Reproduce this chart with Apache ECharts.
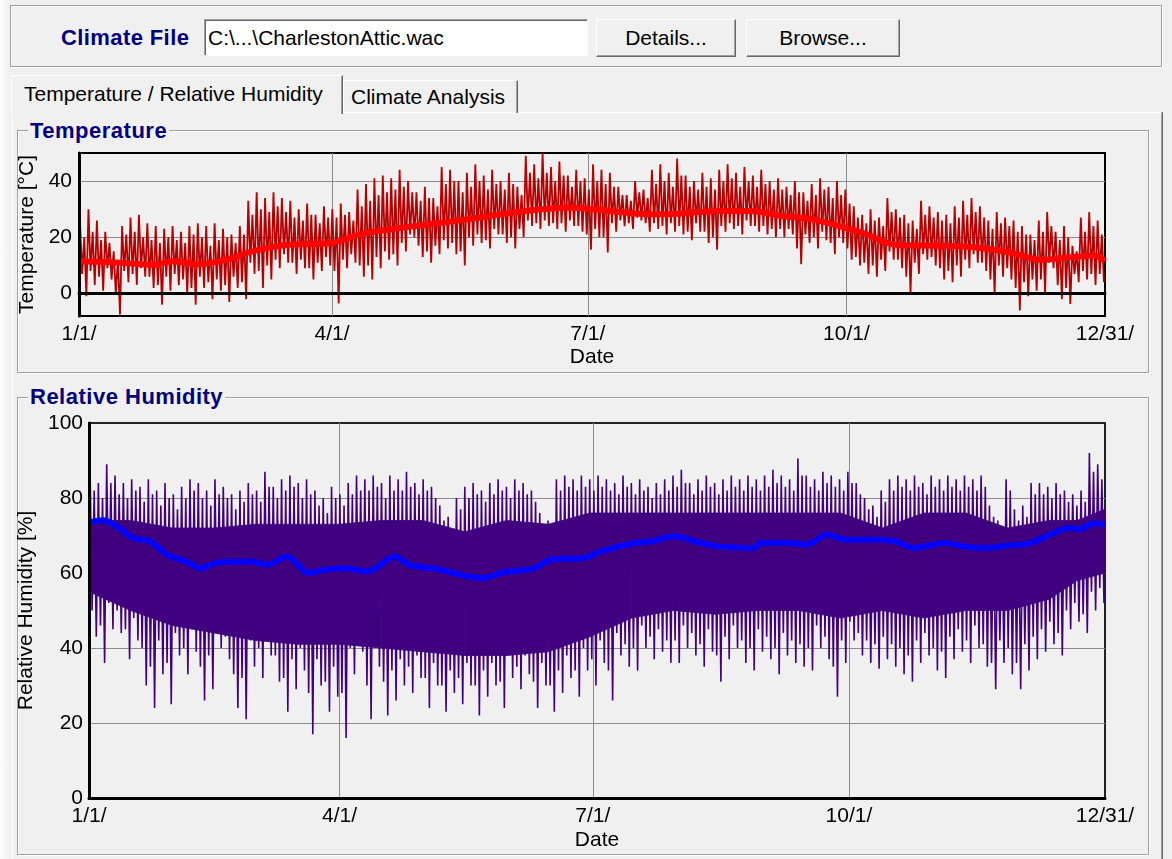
<!DOCTYPE html>
<html><head><meta charset="utf-8">
<script src="https://cdn.jsdelivr.net/npm/echarts@6/dist/echarts.min.js"></script>
<style>
body{margin:0;width:1172px;height:859px;overflow:hidden;background:#f0f0f0;font-family:"Liberation Sans",Arial,sans-serif;position:relative;color:#000}
.a{position:absolute;box-sizing:border-box}
.etch{border:1px solid #a0a0a0;box-shadow:inset 1px 1px 0 #fff,1px 1px 0 #fff}
.btn{background:#f0f0f0;border-top:1px solid #fff;border-left:1px solid #fff;border-right:1px solid #696969;border-bottom:1px solid #696969;box-shadow:inset -1px -1px 0 #a0a0a0;font-size:21px;text-align:center;line-height:35px}
.ttl{font-weight:bold;color:#000080;font-size:22px;letter-spacing:0.5px;background:#f0f0f0;padding:0 2px;line-height:24px}
#chart{position:absolute;left:0;top:0;width:1172px;height:859px}
</style></head><body>
<div class="a" style="left:0;top:0;width:10px;height:859px;background:linear-gradient(to right,#fcfcfc,#f0f0f0)"></div>
<div class="a etch" style="left:10px;top:5px;width:1152px;height:62px"></div>
<div class="a" style="left:61px;top:25px;font-size:22px;font-weight:bold;color:#000080;letter-spacing:0.4px;line-height:26px">Climate File</div>
<div class="a" style="left:204px;top:19px;width:384px;height:37px;background:#fff;border-top:1px solid #a0a0a0;border-left:1px solid #a0a0a0;border-right:1px solid #fff;border-bottom:1px solid #fff;box-shadow:inset 1px 1px 0 #696969;font-size:21px;line-height:35px;padding-left:3px">C:\...\CharlestonAttic.wac</div>
<div class="a btn" style="left:596px;top:19px;width:140px;height:38px">Details...</div>
<div class="a btn" style="left:746px;top:19px;width:154px;height:38px">Browse...</div>
<div class="a" style="left:12px;top:112px;width:1150px;height:760px;border-top:1px solid #fff;border-left:1px solid #fff;border-right:1px solid #a0a0a0;box-shadow:1px 0 0 #696969"></div>
<div class="a" style="left:343px;top:80px;width:175px;height:33px;border-top:1px solid #fff;border-left:1px solid #fff;border-right:1px solid #696969;box-shadow:inset -1px 0 0 #a0a0a0;font-size:21px;line-height:32px;padding-left:7px">Climate Analysis</div>
<div class="a" style="left:11px;top:75px;width:332px;height:39px;background:#f0f0f0;border-top:1px solid #fff;border-left:1px solid #fff;border-right:1px solid #696969;box-shadow:inset -1px 0 0 #a0a0a0;font-size:21px;line-height:36px;padding-left:12px">Temperature / Relative Humidity</div>
<div class="a etch" style="left:17px;top:130px;width:1132px;height:243px"></div>
<div class="a ttl" style="left:28px;top:119px">Temperature</div>
<div class="a etch" style="left:17px;top:397px;width:1132px;height:458px"></div>
<div class="a ttl" style="left:28px;top:385px">Relative Humidity</div>
<div id="chart"></div>
<script>
// ---- data ----
const dayTicks = [0, 90, 181, 273, 365];
const dayLabels = ['1/1/', '4/1/', '7/1/', '10/1/', '12/31/'];
const tempTicks = [0, 20, 40];
const rhTicks = [20, 40, 60, 80];

// temperature: extreme high / low of each 3-day block
const tempHigh = [25,30,26,22,15,24,27,28,25,24, 23,24,22,24,25,24,25,23,21,24,
  33,36,34,36,34,33,30,32,28,31, 30,32,29,37,39,41,42,41,44,40,
  36,38,34,45,44,40,43,46,42,44, 40,43,38,49,46,50,45,47,42,44,
  41,46,44,43,38,35,40,37,44,46, 43,48,42,40,43,41,44,46,43,45,
  42,44,40,41,38,40,36,39,41,38, 40,37,31,28,30,27,34,30,28,26,
  33,31,29,28,31,33,34,31,26,29, 27,26,24,21,26,29,22,24,17,27,29,26];
const tempLow = [-1,3,1,5,-7.5,4,3,6,2,-4, 1,3,0,-4,2,-2,1,-3,2,-2,
  7,2,5,9,11,7,9,5,8,10, -3.5,9,11,6,5,9,12,10,15,20,
  13,11,14,16,14,10,17,18,16,21, 18,16,20,24,23,24,23,22,24,22,
  15.6,20,14.6,22,24,23,26,22,23,21, 22,21,19,22,18,15.6,22,23,21,24,
  22,21,20,20,21,10.4,18,16,19,14, 18,12,10,7,6,8,12,9,0,7,
  12,10,5,4,6,9,11,8,-0.4,6, 5,-6,-1,1,0,9,-2,-3.7,4,5,3,4];
// temperature: second (more typical) high / low of each 3-day block
const tempHigh2 = [20,22,19,18,12,21,22,20,19,18, 20,19,18,21,20,17,19,20,18,21,
  28,30,29,31,29,27,26,28,25,27, 27,28,26,31,33,35,36,37,38,36,
  33,34,31,39,40,36,38,40,37,39, 37,39,35,43,41,43,40,42,38,40,
  37,40,39,38,35,33,36,34,39,40, 38,42,38,37,38,37,40,41,38,40,
  38,39,37,37,35,36,33,35,37,34, 35,32,27,25,26,24,29,27,25,23,
  28,27,26,25,27,28,29,27,23,25, 24,22,21,19,22,24,19,20,15,22,24,21];
const tempLow2 = [7,8,6,9,0,8,7,9,6,3, 6,7,5,2,6,4,5,3,6,4,
  11,8,10,12,14,11,12,9,11,13, 8,12,14,10,10,13,15,14,18,21,
  17,15,17,19,18,15,20,21,19,23, 21,20,23,26,25,26,25,25,26,24,
  21,23,20,25,26,25,27,25,25,24, 25,24,22,25,22,20,24,25,24,26,
  24,24,23,23,23,16,21,20,22,18, 20,16,13,11,10,12,15,12,6,11,
  14,13,9,8,10,12,14,11,5,10, 9,2,4,5,5,11,3,2,7,8,7,7];
const tempAvgDays = [0,10,20,27,33,43,50,55,62,72,80,90,96,102,114,126,138,156,174,185,
  197,209,227,239,250,261,273,279,291,309,321,332,342,350,356,361,365];
const tempAvg = [11.5,11.2,10.6,10.2,11.5,10.4,11.5,12.8,15.1,17.1,17.6,18,19.8,21.5,23.3,24.8,26.4,29.0,30.6,29.8,
  28.5,28.2,29.4,29.4,27.6,26.4,23.3,21.5,17.3,17.0,16.2,14.4,12.0,12.6,13.2,13.5,11.5];

// relative humidity: extreme high / low of each 3-day block
const rhHigh = [88,84,89,86,84,85,83,85,82,84, 81,83,85,84,82,85,83,81,82,84,
  82,87,83,85,86,84,85,82,80,83, 81,84,86,85,86,84,86,85,87,84,
  85,83,78,75,80,83,84,82,84,85, 83,85,84,82,76,74,85,86,85,86,
  85,86,85,84,86,84,85,83,84,85, 86,87.5,84,85,86,84,85,86,85,86,
  85,86,87.5,86,85,90.5,86,85,87,86, 85,87,84,80,78,82,85,86,85,86,
  84,86,85,86,85,86,85,86,78,74, 85,77,78,84,84,83,84,82,81,82,92,89];
const rhLow = [43,36,45,44,37,42,30,24,33,25, 38,33,39,26,29,40,37,24,21,35,
  32,38,31,23,29,34,17,30,23,27, 16,33,39,21,35,22,26,30,28,32,
  24,30,23,28,25,30,22,27,30,24, 32,29,33,24,30,23,28,32,27,34,
  30,36,26,38,35,34,40,37,39,36, 36,40,38,35,39,31,37,40,36,34,
  39,37,33,38,36,35,34,40,37,27, 36,42,38,36,34.5,37,35,33,31,36,
  38,34,32,37,39,36,40,35,29,36, 33,29,34,37,39,41,38,45,47,44,50,52];
// relative humidity: second (more typical) high / low of each 3-day block
const rhHigh2 = [82,80,84,81,80,82,79,81,78,80, 77,80,82,80,78,81,80,77,79,81,
  79,83,80,82,83,80,81,78,76,80, 78,81,82,82,83,80,82,82,83,81,
  82,80,74,71,77,80,81,79,81,82, 80,82,81,79,73,71,82,83,82,83,
  82,83,82,81,83,81,82,80,81,82, 83,84,81,82,83,81,82,83,82,83,
  82,83,84,83,82,86,83,82,84,83, 82,84,81,77,75,79,82,83,82,83,
  81,83,82,83,82,83,82,83,75,72, 82,74,75,81,81,80,81,79,78,79,87,85];
const rhLow2 = [50,46,52,50,45,48,40,35,42,36, 44,40,45,35,38,45,43,33,32,42,
  40,44,38,32,37,40,28,37,31,35, 28,40,44,30,40,31,34,37,35,38,
  32,36,30,34,32,36,30,34,36,31, 38,35,38,31,36,30,34,38,34,40,
  37,42,34,44,41,40,46,43,45,42, 42,46,44,41,45,38,43,46,42,40,
  45,43,40,44,42,41,40,46,43,35, 42,47,44,42,41,43,41,40,38,42,
  44,40,39,43,45,42,46,41,36,42, 40,36,41,43,45,47,44,50,52,49,55,56];
// relative humidity: solid core of the hourly trace
const rhCoreDays = [0,15,30,45,60,75,90,105,120,135,150,165,180,195,210,225,240,255,270,285,300,315,330,345,355,365];
const rhCoreLow  = [55,50,46,44,42,41,41,40,39,38,38,39,43,48,50,49,50,50,48,50,48,50,50,53,58,60];
const rhCoreHigh = [74,74,72,72,73,73,73,74,74,71,74,73,76,76,76,76,76,76,76,72,76,76,72,74,74,77];
const rhAvgDays = [0,5,10,16,22,28,35,40,46,58,64,71,79,85,92,100,110,115,126,136,
  142,148,160,166,178,184,196,202,210,220,226,239,241,249,258,265,272,284,290,296,
  308,314,322,330,338,344,352,356,361,365];
const rhAvg = [73.5,74.1,72.4,69.3,68.4,64.9,63,61.3,62.7,63.1,62.2,64.4,60,60.9,61.3,60.4,64.4,62.2,60.9,59.1,
  58.7,60,61.3,63.6,64,65.8,68,68.4,69.8,68,67.1,66.7,68,68.1,67.6,70.2,68.9,68.9,68.4,66.7,
  68,67.1,66.7,67.3,67.9,69.8,72,71.7,73.3,72.9];

// ---- build ----
// per 3-day block: extreme high, typical low, typical high, extreme low
function zig(hiA, loA, hiB, loB) {
  const bw = 365 / hiA.length, out = [];
  for (let k = 0; k < hiA.length; k++) {
    const x0 = k * bw;
    out.push([x0 + bw * 0.125, hiA[k]]);
    out.push([x0 + bw * 0.375, loB[k]]);
    out.push([x0 + bw * 0.625, hiB[k]]);
    out.push([x0 + bw * 0.875, loA[k]]);
  }
  return out;
}
function pairs(xs, ys) { return xs.map((x, i) => [x, ys[i]]); }
function gridLines(yVals) {
  return {
    silent: true, symbol: ['none', 'none'], z: 1, animation: false,
    label: { show: false }, emphasis: { disabled: true },
    lineStyle: { color: '#8c8c8c', width: 1, type: 'solid' },
    data: dayTicks.slice(1, 4).map(d => ({ xAxis: d })).concat(yVals.map(v => ({ yAxis: v })))
  };
}
// solid core drawn as polygons between consecutive envelope samples
function band(gi, days, lo, hi, color) {
  return {
    type: 'custom', xAxisIndex: gi, yAxisIndex: gi, silent: true, z: 2, clip: true,
    data: days.map((d, i) => [d, lo[i], hi[i]]),
    encode: { x: 0, y: [1, 2] },
    renderItem: function (params, api) {
      const i = params.dataIndex;
      if (i >= days.length - 1) return null;
      const p = [api.coord([days[i], lo[i]]), api.coord([days[i], hi[i]]),
                 api.coord([days[i + 1], hi[i + 1]]), api.coord([days[i + 1], lo[i + 1]])];
      return { type: 'polygon', shape: { points: p },
               style: { fill: color, stroke: color, lineWidth: 0.8 } };
    }
  };
}
const FONT = 'Liberation Sans';
const lab = { color: '#000', fontSize: 21, fontFamily: FONT };
function xAxisOpt(gi, gap) {
  return {
    type: 'value', gridIndex: gi, min: 0, max: 365, z: 10,
    name: 'Date', nameLocation: 'middle', nameGap: gap, nameTextStyle: lab,
    axisLine: { show: true, lineStyle: { color: '#000', width: 3 } },
    axisTick: { show: false }, splitLine: { show: false },
    axisLabel: Object.assign({ customValues: dayTicks, margin: 8, showMinLabel: true, showMaxLabel: true, hideOverlap: false,
      formatter: v => { const i = dayTicks.indexOf(v); return i >= 0 ? dayLabels[i] : ''; } }, lab)
  };
}
const chart = echarts.init(document.getElementById('chart'), null, { renderer: 'canvas' });
chart.setOption({
  animation: false,
  backgroundColor: 'transparent',
  grid: [
    { left: 79, top: 153, width: 1026, height: 163, show: true, borderColor: '#000', borderWidth: 2, backgroundColor: 'transparent' },
    { left: 89, top: 423, width: 1016, height: 375, show: true, borderColor: '#222', borderWidth: 2, backgroundColor: 'transparent' }
  ],
  xAxis: [xAxisOpt(0, 31), xAxisOpt(1, 32)],
  yAxis: [
    { type: 'value', gridIndex: 0, min: -8, max: 50, z: 10,
      name: 'Temperature [°C]', nameLocation: 'middle', nameGap: 36, nameTextStyle: lab,
      axisLine: { show: true, lineStyle: { color: '#000', width: 3 } },
      axisTick: { show: false }, splitLine: { show: false },
      axisLabel: Object.assign({ customValues: tempTicks, margin: 7, formatter: v => String(v) }, lab) },
    { type: 'value', gridIndex: 1, min: 0, max: 100, interval: 20, z: 10,
      name: 'Relative Humidity [%]', nameLocation: 'middle', nameGap: 45, nameTextStyle: lab,
      axisLine: { show: true, lineStyle: { color: '#000', width: 3 } },
      axisTick: { show: false }, splitLine: { show: false },
      axisLabel: Object.assign({ margin: 6, showMinLabel: true, showMaxLabel: true }, lab) }
  ],
  series: [
    { type: 'line', xAxisIndex: 0, yAxisIndex: 0, data: zig(tempHigh, tempLow, tempHigh2, tempLow2), showSymbol: false, z: 3,
      lineStyle: { color: '#b80000', width: 1.8 }, silent: true, markLine: gridLines(tempTicks) },
    { type: 'line', xAxisIndex: 0, yAxisIndex: 0, data: pairs(tempAvgDays, tempAvg), showSymbol: false, smooth: 0.3, z: 4,
      lineStyle: { color: '#ff0000', width: 6 }, silent: true },
    band(1, rhCoreDays, rhCoreLow, rhCoreHigh, '#40007f'),
    { type: 'line', xAxisIndex: 1, yAxisIndex: 1, data: zig(rhHigh, rhLow, rhHigh2, rhLow2), showSymbol: false, z: 3,
      lineStyle: { color: '#40007f', width: 1.6 }, silent: true, markLine: gridLines(rhTicks) },
    { type: 'line', xAxisIndex: 1, yAxisIndex: 1, data: pairs(rhAvgDays, rhAvg), showSymbol: false, smooth: 0.3, z: 4,
      lineStyle: { color: '#0000ff', width: 6 }, silent: true }
  ]
});
</script>
</body></html>
